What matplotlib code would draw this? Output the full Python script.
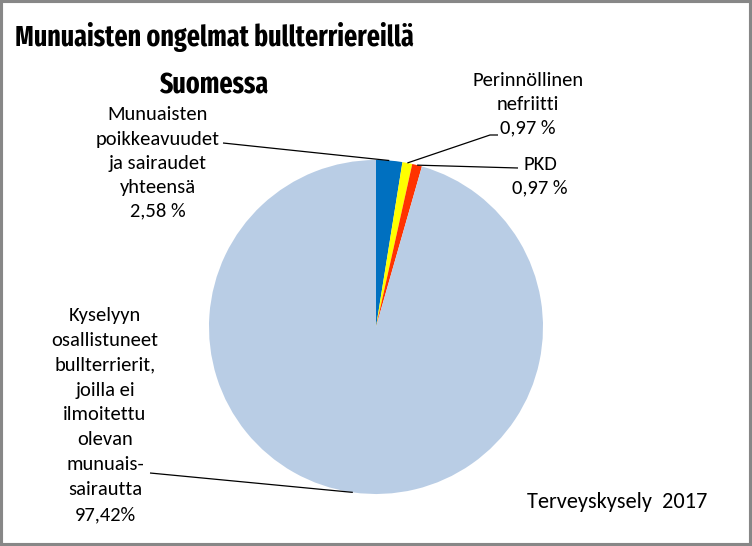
import matplotlib
matplotlib.use("Agg")
import matplotlib.pyplot as plt
from matplotlib.patches import Rectangle
import numpy as np

# ---- data ----
categories = [
    "Munuaisten poikkeavuudet ja sairaudet yhteensä",
    "Perinnöllinen nefriitti",
    "PKD",
    "Kyselyyn osallistuneet bullterrierit, joilla ei ilmoitettu olevan munuaissairautta",
]
values = [2.58, 0.97, 0.97, 97.42]
label_texts = [
    "Munuaisten\npoikkeavuudet\nja sairaudet\nyhteensä\n2,58 %",
    "Perinnöllinen\nnefriitti\n0,97 %",
    "PKD\n0,97 %",
    "Kyselyyn\nosallistuneet\nbullterrierit,\njoilla ei\nilmoitettu\nolevan\nmunuais-\nsairautta\n97,42%",
]
colors = ["#0070C0", "#FFFF00", "#FF3300", "#B9CDE5"]
title_lines = ["Munuaisten ongelmat bullterriereillä", "Suomessa"]
source_text = "Terveyskysely  2017"

W, H = 752, 546
fig = plt.figure(figsize=(W / 100, H / 100), dpi=100)

# pie axes: center (376, 327) px, radius 167 px
cx, cy, r = 376, 327, 167
ax = fig.add_axes([(cx - r) / W, (H - cy - r) / H, 2 * r / W, 2 * r / H])
wedges, _ = ax.pie(values, colors=colors, startangle=90, counterclock=False,
                   radius=1, wedgeprops=dict(linewidth=0))
ax.set_xlim(-1, 1)
ax.set_ylim(-1, 1)
ax.axis("off")

# overlay axes in pixel coordinates
ov = fig.add_axes([0, 0, 1, 1], zorder=5)
ov.set_xlim(0, W)
ov.set_ylim(H, 0)
ov.axis("off")
ov.patch.set_alpha(0)


def wedge_point(w, rr=1.0):
    ang = np.deg2rad((w.theta1 + w.theta2) / 2)
    p = ax.transData.transform((rr * np.cos(ang), rr * np.sin(ang)))
    return ov.transData.inverted().transform(p)


lab_font = dict(family="Carlito", fontsize=14.8, color="black",
                ha="center", va="center")

# label positions (px), line spacing, and leader-line start points (px)
label_pos = [(158, 163), (528, 104), (540, 176), (105, 415)]
label_ls = [1.5, 1.5, 1.5, 1.56]
leader_start = [[(223, 143)], [(498, 135), (490, 135)], [(518, 168)], [(150, 473)]]

for w, txt, pos, ls, starts in zip(wedges, label_texts, label_pos, label_ls, leader_start):
    ov.text(pos[0], pos[1], txt, linespacing=ls, **lab_font)
    end = wedge_point(w)
    pts = starts + [tuple(end)]
    xs, ys = zip(*pts)
    ov.plot(xs, ys, color="black", lw=0.9, solid_capstyle="butt")

# title, fitted to the reference width
title_font = dict(family=["Fira Sans Extra Condensed", "PT Sans Narrow"], fontweight="bold",
                  ha="center", va="baseline")
t1 = ov.text(214, 46, title_lines[0], fontsize=22, **title_font)
renderer = fig.canvas.get_renderer()
wpx = t1.get_window_extent(renderer).width
fs = 22 * 398 / wpx
t1.set_fontsize(fs)
ov.text(214, 93, title_lines[1], fontsize=fs, **title_font)

# source note
ov.text(617, 502, source_text, family="Carlito", fontsize=16, ha="center", va="center")

# outer border
fig.patches.append(Rectangle((0, 0), 1, 1, transform=fig.transFigure, fill=False,
                             edgecolor="#878787", linewidth=4.4, zorder=10))

fig.savefig("out.png", dpi=100, facecolor="white")
